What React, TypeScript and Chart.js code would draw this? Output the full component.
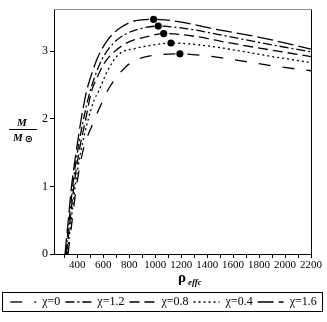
import React, { useEffect, useRef } from "react";
import { Chart, registerables } from "chart.js";

Chart.register(...registerables);

const FONT = '"Liberation Serif", "Times New Roman", serif';

const SERIES_LABELS = ["χ=0", "χ=1.2", "χ=0.8", "χ=0.4", "χ=1.6"];

// χ = 0
const RHO_CHI0 = [328, 360, 393, 440, 535, 580, 640, 780, 895, 1050, 1190, 1400, 1650, 1950, 2200];
const M_CHI0 = [0, 0.5, 1.0, 1.5, 2.0, 2.2, 2.44, 2.78, 2.9, 2.95, 2.96, 2.93, 2.86, 2.77, 2.71];
// χ = 1.2
const RHO_CHI12 = [310, 337, 364, 400, 448, 490, 530, 590, 670, 760, 880, 1023, 1250, 1500, 1850, 2200];
const M_CHI12 = [0, 0.5, 1.0, 1.5, 2.0, 2.35, 2.6, 2.88, 3.1, 3.24, 3.33, 3.37, 3.33, 3.24, 3.11, 2.99];
// χ = 0.8
const RHO_CHI08 = [316, 344, 373, 412, 465, 508, 550, 610, 690, 790, 930, 1065, 1300, 1550, 1880, 2200];
const M_CHI08 = [0, 0.5, 1.0, 1.5, 2.0, 2.4, 2.6, 2.83, 3.0, 3.13, 3.21, 3.26, 3.22, 3.13, 3.02, 2.92];
// χ = 0.4
const RHO_CHI04 = [322, 352, 383, 425, 485, 530, 562, 630, 717, 846, 950, 1121, 1350, 1600, 1900, 2200];
const M_CHI04 = [0, 0.5, 1.0, 1.5, 2.0, 2.28, 2.4, 2.7, 2.95, 3.04, 3.08, 3.12, 3.09, 3.02, 2.92, 2.83];
// χ = 1.6
const RHO_CHI16 = [305, 330, 355, 390, 430, 470, 500, 560, 640, 720, 850, 987, 1200, 1450, 1840, 2200];
const M_CHI16 = [0, 0.5, 1.0, 1.5, 2.0, 2.4, 2.6, 2.92, 3.18, 3.33, 3.45, 3.47, 3.43, 3.33, 3.19, 3.03];

// maximum-mass points
const PEAK_RHO = [1190, 1023, 1065, 1121, 987];
const PEAK_M = [2.96, 3.37, 3.26, 3.12, 3.47];

const X_MIN = 220;
const X_MAX = 2200;
const X_STEP = 100;
const X_LABEL_STEP = 200;
const Y_MIN = 0;
const Y_MAX = 3.62;
const Y_STEP = 1;

const SERIES_RHO = [RHO_CHI0, RHO_CHI12, RHO_CHI08, RHO_CHI04, RHO_CHI16];
const SERIES_M = [M_CHI0, M_CHI12, M_CHI08, M_CHI04, M_CHI16];
const SERIES_DASH = [[12, 12], [9, 3, 2, 3], [10, 5], [2, 3], [16, 5]];

const decorPlugin = {
  id: "decor",
  afterDraw(chart: any) {
    const { ctx, chartArea: a } = chart;
    ctx.save();
    ctx.lineWidth = 1;
    ctx.setLineDash([]);
    // right frame
    ctx.strokeStyle = "#000";
    ctx.beginPath();
    ctx.moveTo(Math.round(a.right) + 0.5, a.top);
    ctx.lineTo(Math.round(a.right) + 0.5, a.bottom);
    ctx.stroke();
    // top frame (gray)
    ctx.strokeStyle = "#8a8a8a";
    ctx.beginPath();
    ctx.moveTo(a.left, Math.round(a.top) + 0.5);
    ctx.lineTo(a.right + 1, Math.round(a.top) + 0.5);
    ctx.stroke();

    // y title: M / M_sun
    ctx.fillStyle = "#000";
    ctx.textAlign = "center";
    ctx.textBaseline = "middle";
    ctx.font = `italic bold 11px ${FONT}`;
    ctx.fillText("M", 22, 123);
    ctx.strokeStyle = "#000";
    ctx.beginPath();
    ctx.moveTo(9, 129.5);
    ctx.lineTo(37, 129.5);
    ctx.stroke();
    ctx.fillText("M", 18, 138);
    ctx.font = `bold 10px "DejaVu Sans", sans-serif`;
    ctx.fillText("⊙", 29, 139);

    // x title: rho_effc
    ctx.textAlign = "left";
    ctx.font = `bold 15px ${FONT}`;
    ctx.fillText("ρ", 178, 278);
    ctx.font = `italic bold 9px ${FONT}`;
    ctx.fillText("effc", 188, 283);

    // legend frame
    const lg = chart.legend;
    if (lg && lg.legendHitBoxes && lg.legendHitBoxes.length) {
      const hb = lg.legendHitBoxes[0];
      const cy = hb.top + hb.height / 2;
      ctx.strokeStyle = "#000";
      ctx.strokeRect(2.5, Math.round(cy - 10) + 0.5, 320, 19);
    }
    ctx.restore();
  },
};

export default function App() {
  const ref = useRef<HTMLCanvasElement>(null);

  useEffect(() => {
    const lineSets = SERIES_LABELS.map((label, i) => ({
      label,
      data: SERIES_RHO[i].map((x, k) => ({ x, y: SERIES_M[i][k] })),
      showLine: true,
      borderColor: "#000",
      backgroundColor: "#000",
      borderWidth: 1.3,
      borderDash: SERIES_DASH[i],
      pointRadius: 0,
      pointHoverRadius: 0,
      cubicInterpolationMode: "monotone" as const,
      fill: false,
    }));
    const peakSet = {
      label: "peaks",
      data: PEAK_RHO.map((x, k) => ({ x, y: PEAK_M[k] })),
      showLine: false,
      pointRadius: 3.6,
      pointBackgroundColor: "#000",
      pointBorderWidth: 0,
      borderColor: "#000",
      backgroundColor: "#000",
    };

    const defaultGen = (Chart as any).defaults.plugins.legend.labels.generateLabels;

    const chart = new Chart(ref.current!, {
      type: "scatter",
      data: { datasets: [...lineSets, peakSet] as any },
      plugins: [decorPlugin as any],
      options: {
        responsive: false,
        animation: false,
        events: [],
        layout: { padding: { top: 5, left: 0, right: 0, bottom: 4 } },
        plugins: {
          tooltip: { enabled: false },
          legend: {
            position: "bottom",
            labels: {
              usePointStyle: true,
              pointStyle: "line",
              pointStyleWidth: 26,
              padding: 5,
              color: "#000",
              font: { family: FONT, size: 12 },
              generateLabels: (c: any) =>
                defaultGen(c).map((it: any) => {
                  const ds = c.data.datasets[it.datasetIndex];
                  return {
                    ...it,
                    lineDash: ds.borderDash || [],
                    lineWidth: 1.3,
                    strokeStyle: "#000",
                    fillStyle: "#000",
                  };
                }),
              filter: (item: any) => item.datasetIndex < SERIES_LABELS.length,
            },
          },
        },
        scales: {
          x: {
            type: "linear",
            min: X_MIN,
            max: X_MAX,
            grid: { drawOnChartArea: false, tickLength: 4, color: "#000" },
            border: { color: "#000" },
            ticks: {
              stepSize: X_STEP,
              includeBounds: false,
              autoSkip: false,
              maxRotation: 0,
              padding: 1,
              color: "#000",
              font: { family: FONT, size: 11 },
              callback: (v: any) => (Number(v) % X_LABEL_STEP === 0 ? String(v) : ""),
            },
            afterFit: (s: any) => {
              s.height = 37;
            },
          },
          y: {
            type: "linear",
            min: Y_MIN,
            max: Y_MAX,
            grid: { drawOnChartArea: false, tickLength: 4, color: "#000" },
            border: { color: "#000" },
            ticks: {
              stepSize: Y_STEP,
              includeBounds: false,
              padding: 2,
              color: "#000",
              font: { family: FONT, size: 12 },
            },
            afterFit: (s: any) => {
              s.width = 54;
            },
          },
          y2: {
            type: "linear",
            position: "right",
            display: true,
            grid: { display: false, drawTicks: false },
            border: { display: false },
            ticks: { display: false },
            afterFit: (s: any) => {
              s.width = 16;
            },
          },
        },
      } as any,
    });
    return () => chart.destroy();
  }, []);

  return (
    <div style={{ position: "absolute", left: 0, top: 0, width: 327, height: 322, background: "#fff" }}>
      <canvas ref={ref} width={327} height={322} style={{ display: "block" }} />
    </div>
  );
}
